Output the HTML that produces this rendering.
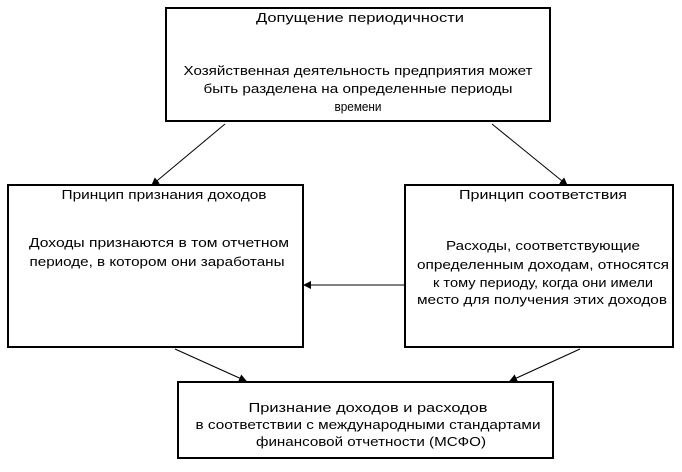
<!DOCTYPE html>
<html><head><meta charset="utf-8"><style>
body{margin:0;background:#fff;}
svg text{font-family:"Liberation Sans",sans-serif;font-size:12.5px;fill:#000;text-anchor:middle;}
</style></head><body>
<svg width="682" height="467" viewBox="0 0 682 467" xmlns="http://www.w3.org/2000/svg">
<defs><marker id="a" markerWidth="8" markerHeight="8" refX="7" refY="4" orient="auto" markerUnits="userSpaceOnUse"><path d="M0,0 L8,4 L0,8 z" fill="#000"/></marker></defs>
<g fill="none" stroke="#000" stroke-width="2">
<rect x="166" y="8" width="384" height="113"/>
<rect x="8" y="185" width="295" height="162"/>
<rect x="405" y="185" width="268" height="162"/>
<rect x="178" y="382" width="375" height="76"/>
</g>
<g stroke="#000" stroke-width="1" marker-end="url(#a)">
<line x1="225" y1="124" x2="152" y2="185"/>
<line x1="492" y1="124" x2="567" y2="185"/>
<line x1="405" y1="285" x2="304" y2="285"/>
<line x1="175" y1="349" x2="246" y2="381"/>
<line x1="580" y1="349" x2="510" y2="381"/>
</g>
<text x="360" y="22" textLength="208" lengthAdjust="spacingAndGlyphs">Допущение периодичности</text>
<text x="358" y="75" textLength="349" lengthAdjust="spacingAndGlyphs">Хозяйственная деятельность предприятия может</text>
<text x="358" y="93" textLength="309" lengthAdjust="spacingAndGlyphs">быть разделена на определенные периоды</text>
<text x="358" y="111" textLength="47" lengthAdjust="spacingAndGlyphs">времени</text>
<text x="164" y="199" textLength="205" lengthAdjust="spacingAndGlyphs">Принцип признания доходов</text>
<text x="159" y="247" textLength="260" lengthAdjust="spacingAndGlyphs">Доходы  признаются в том отчетном</text>
<text x="157" y="266" textLength="255" lengthAdjust="spacingAndGlyphs">периоде, в котором они заработаны</text>
<text x="543" y="199" textLength="168" lengthAdjust="spacingAndGlyphs">Принцип соответствия</text>
<text x="543" y="250" textLength="194" lengthAdjust="spacingAndGlyphs">Расходы, соответствующие</text>
<text x="543" y="269" textLength="252" lengthAdjust="spacingAndGlyphs">определенным доходам, относятся</text>
<text x="543" y="287" textLength="220" lengthAdjust="spacingAndGlyphs">к тому периоду, когда они имели</text>
<text x="542" y="304" textLength="250" lengthAdjust="spacingAndGlyphs">место для получения этих доходов</text>
<text x="368" y="412" textLength="239" lengthAdjust="spacingAndGlyphs">Признание доходов и расходов</text>
<text x="368" y="429" textLength="345" lengthAdjust="spacingAndGlyphs">в соответствии с международными стандартами</text>
<text x="371" y="446" textLength="230" lengthAdjust="spacingAndGlyphs">финансовой отчетности (МСФО)</text>
</svg>
</body></html>
